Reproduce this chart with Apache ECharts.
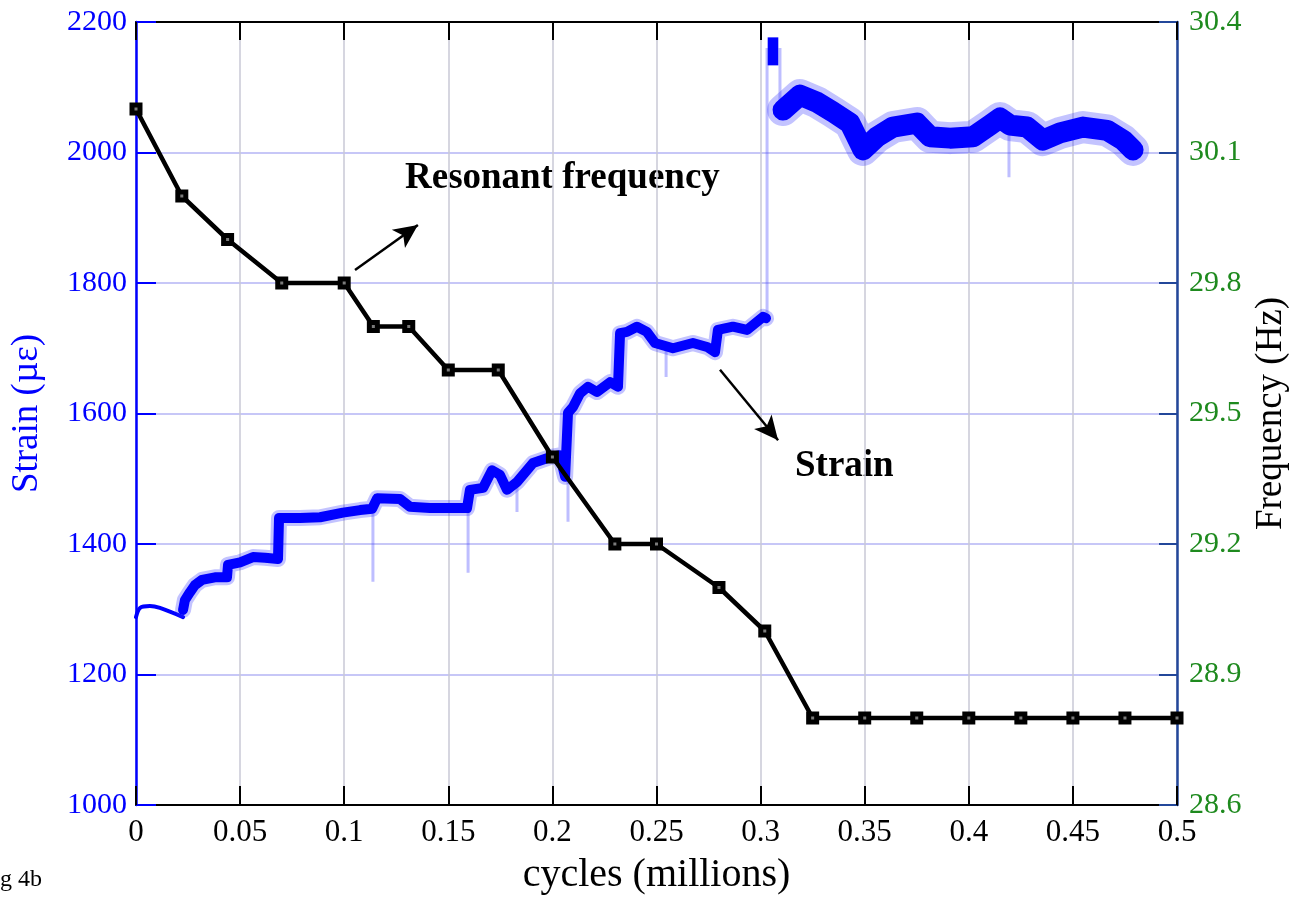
<!DOCTYPE html>
<html>
<head>
<meta charset="utf-8">
<script src="https://cdn.jsdelivr.net/npm/echarts@6/dist/echarts.min.js"></script>
<style>
html,body{margin:0;padding:0;background:#fff;}
#chart{width:1298px;height:897px;}
</style>
</head>
<body>
<div id="chart"></div>
<script>
// ---------- data ----------
const xTicks = [0, 0.05, 0.1, 0.15, 0.2, 0.25, 0.3, 0.35, 0.4, 0.45, 0.5];
const strainTicks = [1000, 1200, 1400, 1600, 1800, 2000, 2200];
const freqTicks = [28.6, 28.9, 29.2, 29.5, 29.8, 30.1, 30.4];

// resonant frequency (Hz) vs cycles (millions)
const freqCycles = [0, 0.022, 0.044, 0.070, 0.100, 0.114, 0.131, 0.150, 0.174, 0.200, 0.230, 0.250, 0.280, 0.302, 0.325, 0.350, 0.375, 0.400, 0.425, 0.450, 0.475, 0.500];
const freqValues = [30.2, 30.0, 29.9, 29.8, 29.8, 29.7, 29.7, 29.6, 29.6, 29.4, 29.2, 29.2, 29.1, 29.0, 28.8, 28.8, 28.8, 28.8, 28.8, 28.8, 28.8, 28.8];

// strain trace (cycles in millions, micro-strain)
const strainEarly = [
  [0, 1288], [0.0019, 1302], [0.0067, 1305], [0.0115, 1302], [0.0226, 1288]
];
const strainMid = [
  [0.0226, 1299], [0.0235, 1314], [0.0259, 1326], [0.0283, 1337], [0.0317, 1345],
  [0.0379, 1349], [0.0437, 1349], [0.0442, 1368], [0.0500, 1372], [0.0562, 1380],
  [0.0620, 1379], [0.0682, 1377], [0.0687, 1440], [0.0788, 1440], [0.0884, 1441],
  [0.0994, 1448], [0.1076, 1452], [0.1134, 1454], [0.1158, 1470], [0.1268, 1469],
  [0.1316, 1457], [0.1412, 1455], [0.1508, 1455], [0.1590, 1455], [0.1604, 1483],
  [0.1667, 1486], [0.1710, 1513], [0.1748, 1506], [0.1782, 1483], [0.1830, 1495],
  [0.1907, 1524], [0.1988, 1533], [0.2036, 1536], [0.2061, 1503], [0.2075, 1601],
  [0.2099, 1610], [0.2133, 1631], [0.2171, 1641], [0.2214, 1633], [0.2277, 1648],
  [0.2315, 1641], [0.2325, 1723], [0.2358, 1725], [0.2406, 1733], [0.2454, 1725],
  [0.2493, 1708], [0.2579, 1700], [0.2675, 1708], [0.2743, 1702], [0.2781, 1694],
  [0.2795, 1728], [0.2867, 1733], [0.2935, 1728], [0.3012, 1748], [0.3026, 1746]
];
const strainPeak = [
  [0.3034, 2155], [0.3085, 2155]
];
const strainLate = [
  [0.3108, 2065], [0.3189, 2088], [0.3271, 2077], [0.3348, 2062], [0.3429, 2045],
  [0.3492, 2004], [0.3559, 2024], [0.3636, 2039], [0.3751, 2045], [0.3814, 2024],
  [0.3910, 2022], [0.4020, 2024], [0.4102, 2042], [0.4150, 2053], [0.4198, 2042],
  [0.4280, 2039], [0.4356, 2019], [0.4438, 2030], [0.4548, 2039], [0.4664, 2034],
  [0.4741, 2019], [0.4789, 2004]
];
// faint transient drops / jumps: [cycles, from, to]
const strainSpikes = [
  [0.1138, 1453, 1342], [0.1595, 1455, 1356], [0.1830, 1498, 1449],
  [0.2075, 1503, 1434], [0.2546, 1705, 1656], [0.3031, 1746, 2160],
  [0.3093, 2160, 2065], [0.4193, 2034, 1962]
];

// annotations (arrow start/end in data coords: cycles, strain)
const arrowResonant = [[0.1052, 1820], [0.1354, 1889]];
const arrowStrain = [[0.2805, 1667], [0.3084, 1559]];

// ---------- build ----------
const spikeData = [];
strainSpikes.forEach(s => { spikeData.push([s[0], s[1]]); spikeData.push([s[0], s[2]]); spikeData.push([s[0], '-']); });
const freqData = freqCycles.map((c, i) => [c, freqValues[i]]);

const serif = '"Liberation Serif", "Times New Roman", serif';
const blue = '#0000ff';
const halo = 'rgba(40,40,255,0.28)';

function strainLine(name, data, width, color, z, extra) {
  return Object.assign({type: 'line', name: name, xAxisIndex: 0, yAxisIndex: 0, data: data,
    showSymbol: false, z: z, silent: true,
    lineStyle: {color: color, width: width, join: 'round', cap: 'round'}}, extra || {});
}

const chart = echarts.init(document.getElementById('chart'), null, {renderer: 'canvas'});
chart.setOption({
  animation: false,
  backgroundColor: '#fff',
  grid: {left: 136, right: 121, top: 22, bottom: 92, containLabel: false, outerBoundsMode: 'none'},
  xAxis: [{
    type: 'value', min: 0, max: 0.5, interval: 0.05, position: 'bottom',
    name: 'cycles (millions)', nameLocation: 'middle', nameGap: 50,
    nameTextStyle: {fontFamily: serif, fontSize: 40, color: '#000'},
    axisLine: {show: true, onZero: false, lineStyle: {color: '#000', width: 2}},
    axisTick: {show: true, inside: true, length: 19, lineStyle: {color: '#000', width: 2}},
    axisLabel: {fontFamily: serif, fontSize: 31, color: '#000', margin: 12,
      formatter: v => String(+(+v).toFixed(2))},
    splitLine: {show: true, lineStyle: {color: '#c9c9d6', width: 1.5}}
  }, {
    type: 'value', min: 0, max: 0.5, interval: 0.05, position: 'top',
    axisLine: {show: true, onZero: false, lineStyle: {color: '#000', width: 2}},
    axisTick: {show: true, inside: true, length: 18, lineStyle: {color: '#000', width: 2}},
    axisLabel: {show: false}, splitLine: {show: false}
  }],
  yAxis: [{
    type: 'value', min: 1000, max: 2200, interval: 200, position: 'left',
    name: 'Strain (µε)', nameLocation: 'middle', nameGap: 90,
    nameTextStyle: {fontFamily: serif, fontSize: 37, color: blue},
    axisLine: {show: true, onZero: false, lineStyle: {color: blue, width: 2.5}},
    axisTick: {show: true, inside: true, length: 20, lineStyle: {color: blue, width: 2}},
    axisLabel: {fontFamily: serif, fontSize: 30, color: blue, margin: 9,
      formatter: v => String(v)},
    splitLine: {show: true, lineStyle: {color: '#b4b4f4', width: 1.5}}
  }, {
    type: 'value', min: 28.6, max: 30.4, position: 'right',
    name: 'Frequency (Hz)', nameLocation: 'middle', nameGap: 76,
    nameTextStyle: {fontFamily: serif, fontSize: 37, color: '#000'},
    axisLine: {show: true, onZero: false, lineStyle: {color: '#23479a', width: 2.5}},
    axisTick: {show: true, inside: true, length: 18, customValues: freqTicks,
      lineStyle: {color: '#23479a', width: 2}},
    axisLabel: {fontFamily: serif, fontSize: 30, color: '#1e8a1e', margin: 12,
      customValues: freqTicks, formatter: v => (+v).toFixed(1)},
    splitLine: {show: false}
  }],
  series: [
    {type: 'line', name: 'spikes', xAxisIndex: 0, yAxisIndex: 0, data: spikeData,
      showSymbol: false, connectNulls: false, z: 2, silent: true,
      lineStyle: {color: 'rgba(70,70,255,0.35)', width: 3}},
    strainLine('strain0', strainEarly, 4, blue, 3, {smooth: 0.3}),
    strainLine('strain1halo', strainMid, 16, halo, 3),
    strainLine('strain1', strainMid, 10, blue, 4),
    strainLine('strain2', strainPeak, 28, blue, 4, {lineStyle: {color: blue, width: 28, cap: 'butt'}}),
    strainLine('strain3halo', strainLate, 32, halo, 3),
    strainLine('strain3', strainLate, 21, blue, 4, {
      markLine: {
        silent: true, symbol: ['none', 'arrow'], symbolSize: [17, 24],
        lineStyle: {color: '#000', width: 2.5, type: 'solid'}, label: {show: false},
        data: [
          [{coord: arrowResonant[0]}, {coord: arrowResonant[1]}],
          [{coord: arrowStrain[0]}, {coord: arrowStrain[1]}]
        ]
      }}),
    {type: 'line', name: 'Resonant frequency', xAxisIndex: 0, yAxisIndex: 1, data: freqData,
      symbol: 'rect', symbolSize: 13, z: 10,
      lineStyle: {color: '#000', width: 4.5},
      itemStyle: {color: '#000'}},
    {type: 'scatter', name: 'markerCentre', xAxisIndex: 0, yAxisIndex: 1, data: freqData,
      symbol: 'rect', symbolSize: 3, z: 11, silent: true,
      itemStyle: {color: '#9a9a9a'}}
  ],
  graphic: [
    {type: 'text', left: 405, top: 160, style: {text: 'Resonant frequency', font: 'bold 37px ' + serif, fill: '#000'}},
    {type: 'text', left: 795, top: 448, style: {text: 'Strain', font: 'bold 37px ' + serif, fill: '#000'}},
    {type: 'text', left: 0, top: 868, style: {text: 'g 4b', font: '24px ' + serif, fill: '#000'}}
  ]
});
</script>
</body>
</html>
